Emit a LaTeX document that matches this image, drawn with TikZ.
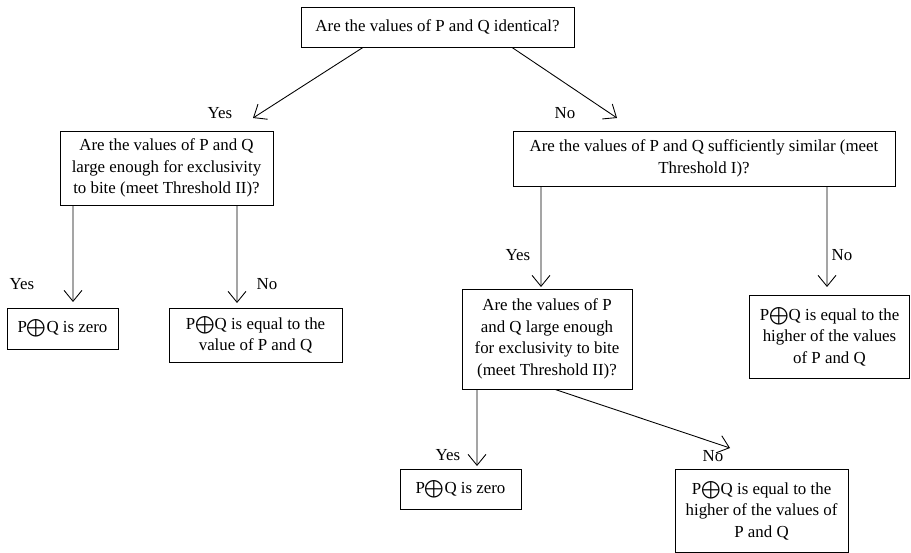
\documentclass[tikz,border=0pt]{standalone}
\usepackage{fontspec}
\setmainfont{Liberation Serif}
\usetikzlibrary{arrows.meta}
\begin{document}
\begin{tikzpicture}[x=0.02cm,y=-0.02cm,font=\fontsize{9.6}{12.2}\selectfont]
\useasboundingbox (0,0) rectangle (911,553);
\tikzset{box/.style={draw,line width=0.5pt,inner sep=0pt,align=center}};
\tikzset{lbl/.style={inner sep=0pt}};

\node[box,minimum width=5.46cm,minimum height=0.8cm] (same) at (437.5,27) {Are the values of P and Q identical?};
\node[box,minimum width=4.26cm,minimum height=1.48cm] (bigL) at (166.5,168) {Are the values of P and Q\\large enough for exclusivity\\to bite (meet Threshold II)?};
\node[box,minimum width=7.64cm,minimum height=1.1cm] (similar) at (704,158.5) {Are the values of P and Q sufficiently similar (meet\\Threshold I)?};
\node[box,minimum width=2.22cm,minimum height=0.82cm] (zeroL) at (62.5,328.5) {P$\bigoplus$Q is zero};
\node[box,minimum width=3.46cm,minimum height=1.08cm] (valueL) at (255.5,335) {P$\bigoplus$Q is equal to the\\value of P and Q};
\node[box,minimum width=3.4cm,minimum height=2.0cm] (bigR) at (547,339) {Are the values of P\\and Q large enough\\for exclusivity to bite\\(meet Threshold II)?};
\node[box,minimum width=3.2cm,minimum height=1.66cm] (higherA) at (829.5,336.5) {P$\bigoplus$Q is equal to the\\higher of the values\\of P and Q};
\node[box,minimum width=2.42cm,minimum height=0.8cm] (zeroR) at (460.5,489) {P$\bigoplus$Q is zero};
\node[box,minimum width=3.46cm,minimum height=1.66cm] (higherB) at (761.5,510.5) {P$\bigoplus$Q is equal to the\\higher of the values of\\P and Q};

% arrow ends
\coordinate (t1) at (253,118);
\coordinate (t2) at (617,118);
\coordinate (t3) at (73,302);
\coordinate (t4) at (237,303);
\coordinate (t5) at (541,287);
\coordinate (t6) at (827,287);
\coordinate (t7) at (477,466);
\coordinate (t8) at (730,448);

\tikzset{mystyle/.style={-{Straight Barb[length=2.2mm,width=3.6mm]},line width=0.5pt}};
\path ([xshift=-1.49cm]same.south) edge [mystyle] (t1);
\path ([xshift=1.49cm]same.south) edge [mystyle] (t2);
\path ([xshift=-1.87cm]bigL.south) edge [mystyle] (t3);
\path ([xshift=1.41cm]bigL.south) edge [mystyle] (t4);
\path ([xshift=-3.26cm]similar.south) edge [mystyle] (t5);
\path ([xshift=2.46cm]similar.south) edge [mystyle] (t6);
\path ([xshift=-1.4cm]bigR.south) edge [mystyle] (t7);
\path ([xshift=0.16cm]bigR.south) edge [mystyle] (t8);

\node[lbl] (yes1) at (220,113) {Yes};
\node[lbl] (no1) at (565,113) {No};
\node[lbl] (yes2) at (22,284) {Yes};
\node[lbl] (no2) at (267,284) {No};
\node[lbl] (yes3) at (518,255) {Yes};
\node[lbl] (no3) at (842,255) {No};
\node[lbl] (yes4) at (448,455) {Yes};
\node[lbl] (no4) at (713,456) {No};
\end{tikzpicture}
\end{document}
